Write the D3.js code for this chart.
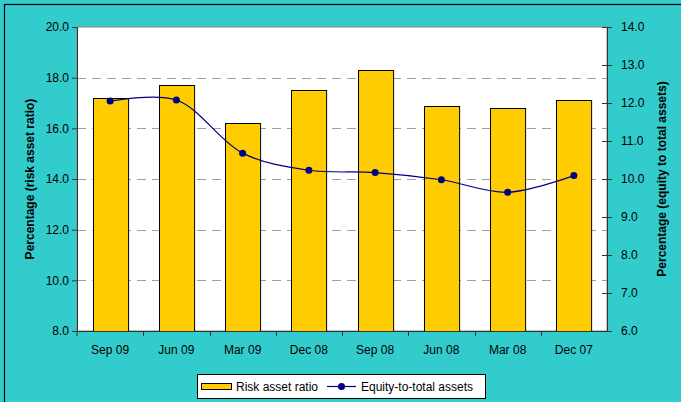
<!DOCTYPE html>
<meta charset="utf-8">
<head>
  <script src="https://cdn.jsdelivr.net/npm/d3@7"></script>
</head>
<style>
  body { margin: 0; background: #33cccc; }
  text { font-family: Arial, "Liberation Sans", sans-serif; fill: #000; }
  .tick text { font-size: 12px; }
  .title { font-size: 12px; font-weight: bold; }
</style>
<body></body>
<script type="text/javascript">
  var categories = ["Sep 09", "Jun 09", "Mar 09", "Dec 08", "Sep 08", "Jun 08", "Mar 08", "Dec 07"];
  var riskAssetRatio = [17.2, 17.7, 16.2, 17.5, 18.3, 16.9, 16.8, 17.1];
  var equityToAssets = [12.05, 12.08, 10.68, 10.23, 10.17, 9.98, 9.65, 10.09];
  var leftTicks = [8, 10, 12, 14, 16, 18, 20];
  var rightTicks = [6, 7, 8, 9, 10, 11, 12, 13, 14];

  var width = 681, height = 402;
  var plot = {left: 77, top: 27, right: 607, bottom: 331};

  var svg = d3.select("body").append("svg")
      .attr("width", width)
      .attr("height", height);

  // outer chart border
  svg.append("rect")
      .attr("x", 4.5).attr("y", 4.5)
      .attr("width", width + 10).attr("height", height + 10)
      .attr("fill", "#33cccc")
      .attr("stroke", "#000").attr("stroke-width", 1.2);

  var x = d3.scaleBand().domain(categories).range([plot.left, plot.right]).paddingInner(0.47).paddingOuter(0.235);
  var xb = d3.scaleBand().domain(categories).range([plot.left, plot.right]);
  var yL = d3.scaleLinear().domain([8, 20]).range([plot.bottom, plot.top]);
  var yR = d3.scaleLinear().domain([6, 14]).range([plot.bottom, plot.top]);

  // plot area
  svg.append("rect")
      .attr("x", plot.left).attr("y", plot.top)
      .attr("width", plot.right - plot.left).attr("height", plot.bottom - plot.top)
      .attr("fill", "#fff")
      .attr("stroke", "#888").attr("stroke-width", 1);

  // dashed gridlines
  svg.append("g").selectAll("line")
      .data(leftTicks.slice(1, -1))
      .join("line")
      .attr("x1", plot.left).attr("x2", plot.right)
      .attr("y1", d => Math.round(yL(d)) + 0.5).attr("y2", d => Math.round(yL(d)) + 0.5)
      .attr("stroke", "#a0a0a0").attr("stroke-dasharray", "9,6");

  // bars
  svg.append("g").selectAll("rect")
      .data(riskAssetRatio)
      .join("rect")
      .attr("x", (d, i) => Math.round(x(categories[i])) + 0.5)
      .attr("y", d => Math.round(yL(d)) + 0.5)
      .attr("width", x.bandwidth())
      .attr("height", d => plot.bottom - Math.round(yL(d)))
      .attr("fill", "#ffcc00")
      .attr("stroke", "#000").attr("stroke-width", 1);

  // left axis
  var gL = svg.append("g")
      .attr("transform", "translate(" + plot.left + ",0)")
      .call(d3.axisLeft(yL).tickValues(leftTicks).tickFormat(d3.format(".1f")).tickSize(5).tickPadding(3));
  gL.select(".domain").attr("stroke", "#333");
  gL.selectAll(".tick line").attr("stroke", "#333");

  // right axis
  var gR = svg.append("g")
      .attr("transform", "translate(" + plot.right + ",0)")
      .call(d3.axisRight(yR).tickValues(rightTicks).tickFormat(d3.format(".1f")).tickSize(5).tickPadding(9));
  gR.select(".domain").attr("stroke", "#333");
  gR.selectAll(".tick line").attr("stroke", "#333").attr("x1", -5);

  // bottom axis
  var gB = svg.append("g")
      .attr("transform", "translate(0," + plot.bottom + ")")
      .call(d3.axisBottom(xb).tickSize(0).tickPadding(14));
  gB.select(".domain").attr("stroke", "#333");
  gB.selectAll(".sep")
      .data(categories.slice(1))
      .join("line")
      .attr("class", "sep")
      .attr("x1", d => Math.round(xb(d)) + 0.5).attr("x2", d => Math.round(xb(d)) + 0.5)
      .attr("y1", 0).attr("y2", 5)
      .attr("stroke", "#333");
  gB.append("line")
      .attr("x1", plot.left).attr("x2", plot.left).attr("y1", 0).attr("y2", 5).attr("stroke", "#333");
  svg.selectAll(".tick text").style("font-size", "12px").attr("fill", "#000");

  // smoothed line
  var pts = equityToAssets.map((v, i) => [xb(categories[i]) + xb.bandwidth() / 2, yR(v)]);
  svg.append("path")
      .datum(pts)
      .attr("d", d3.line().curve(d3.curveCatmullRom.alpha(0.5)))
      .attr("fill", "none")
      .attr("stroke", "#000080").attr("stroke-width", 1.2);
  svg.append("g").selectAll("circle")
      .data(pts)
      .join("circle")
      .attr("cx", d => d[0]).attr("cy", d => d[1])
      .attr("r", 3.5)
      .attr("fill", "#000080");

  // axis titles
  svg.append("text")
      .attr("class", "title")
      .attr("transform", "translate(34," + ((plot.top + plot.bottom) / 2) + ") rotate(-90)")
      .attr("text-anchor", "middle")
      .text("Percentage (risk asset ratio)");
  svg.append("text")
      .attr("class", "title")
      .attr("transform", "translate(666," + ((plot.top + plot.bottom) / 2) + ") rotate(-90)")
      .attr("text-anchor", "middle")
      .text("Percentage (equity to total assets)");

  // legend
  var lg = svg.append("g");
  lg.append("rect")
      .attr("x", 197.5).attr("y", 374.5).attr("width", 288).attr("height", 24)
      .attr("fill", "#fff").attr("stroke", "#000");
  lg.append("rect")
      .attr("x", 201.5).attr("y", 383.5).attr("width", 30).attr("height", 6)
      .attr("fill", "#ffcc00").attr("stroke", "#000");
  lg.append("text")
      .attr("x", 236).attr("y", 391)
      .style("font-size", "12px")
      .text("Risk asset ratio");
  lg.append("line")
      .attr("x1", 327).attr("x2", 356).attr("y1", 386.5).attr("y2", 386.5)
      .attr("stroke", "#000080").attr("stroke-width", 1.2);
  lg.append("circle")
      .attr("cx", 341.5).attr("cy", 386.5).attr("r", 3.5).attr("fill", "#000080");
  lg.append("text")
      .attr("x", 361).attr("y", 391)
      .style("font-size", "12px")
      .text("Equity-to-total assets");
</script>
